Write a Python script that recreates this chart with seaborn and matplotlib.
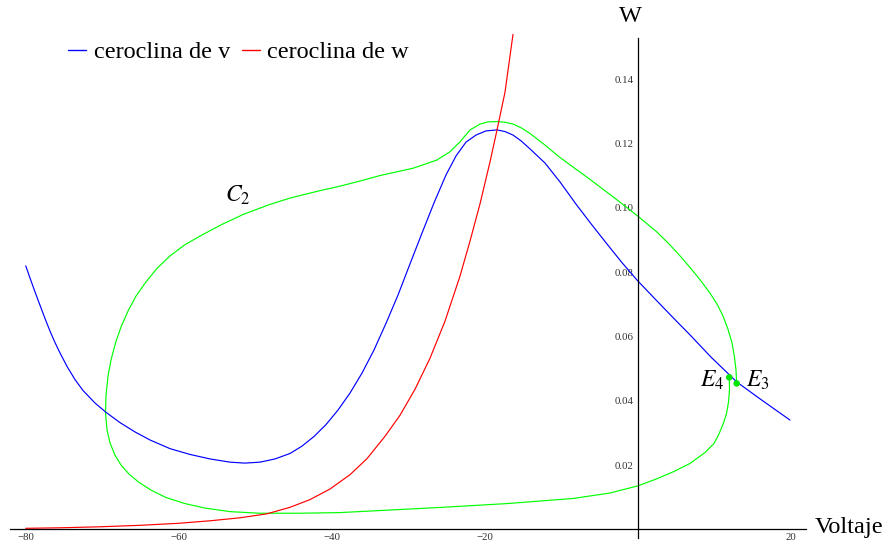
import matplotlib
matplotlib.use("Agg")
import matplotlib.pyplot as plt
import seaborn as sns
import pandas as pd
from matplotlib.lines import Line2D

# v-nullcline (blue)
vnull_v = [-80.0, -79.44, -78.79, -78.13, -77.48, -76.83, -76.17, -75.52, -74.60, -73.56,
           -72.51, -70.94, -69.50, -67.67, -65.71, -63.75, -61.13, -58.52, -55.90, -53.29,
           -51.33, -49.37, -47.40, -45.44, -43.87, -42.30, -40.73, -39.17, -37.60, -36.03,
           -34.46, -32.89, -31.32, -29.75, -28.18, -26.61, -25.04, -23.73, -22.43, -21.12,
           -19.81, -18.37, -17.33, -16.28, -15.23, -14.06, -12.10, -10.13, -8.04, -5.95,
           -3.99, -2.03, 0.0, 2.29, 4.64, 6.87, 9.61, 13.01, 16.02, 19.94]
vnull_w = [0.0820, 0.0782, 0.0739, 0.0697, 0.0656, 0.0617, 0.0581, 0.0549, 0.0507, 0.0466,
           0.0432, 0.0393, 0.0364, 0.0332, 0.0303, 0.0278, 0.0251, 0.0233, 0.0219, 0.0209,
           0.0206, 0.0209, 0.0219, 0.0236, 0.0259, 0.0289, 0.0326, 0.0371, 0.0424, 0.0486,
           0.0558, 0.0641, 0.0729, 0.0826, 0.0922, 0.1016, 0.1103, 0.1162, 0.1205, 0.1227,
           0.1240, 0.1243, 0.1238, 0.1227, 0.1209, 0.1184, 0.1140, 0.1081, 0.1012, 0.0947,
           0.0888, 0.0830, 0.0774, 0.0717, 0.0659, 0.0605, 0.0536, 0.0458, 0.0406, 0.0340]

# w-nullcline (red)
wnull_v = [-80.0, -75.52, -70.29, -65.06, -60.0, -55.90, -51.98, -48.45, -45.44, -42.83,
           -40.21, -37.60, -35.37, -33.02, -31.06, -29.10, -27.14, -25.18, -23.22, -21.91,
           -20.61, -19.30, -18.41, -17.33, -16.28]
wnull_w = [0.00031, 0.00047, 0.00078, 0.00124, 0.00187, 0.00265, 0.00358, 0.00482, 0.00685,
           0.00924, 0.01254, 0.01699, 0.02200, 0.02895, 0.03548, 0.04357, 0.05322, 0.06474,
           0.07874, 0.08964, 0.10115, 0.11423, 0.12387, 0.13601, 0.15405]

# orbit C2 (green), traced from E4 around to E3
orb_v = [12.00, 12.03, 11.90, 11.64, 11.25, 10.66, 10.00, 8.83, 6.87, 4.77, 2.51, 0.03,
         -3.60, -8.40, -17.10, -25.83, -32.37, -38.90, -44.13, -49.37, -53.29, -56.56,
         -59.17, -61.66, -63.62, -65.19, -66.50, -67.54, -68.33, -68.98, -69.37, -69.57,
         -69.50, -69.24, -68.85, -68.26, -67.54, -66.63, -65.58, -64.27, -62.84, -61.13,
         -59.17, -56.95, -54.34, -51.46, -48.32, -45.44, -41.52, -38.90, -36.29, -33.67,
         -29.32, -26.26, -24.52, -23.21, -21.90, -20.60, -19.55, -18.41, -17.33, -16.24,
         -15.17, -14.06, -12.10, -10.13, -8.17, -6.21, -3.60, -1.63, 0.03, 2.51, 4.25, 5.56,
         6.87, 8.17, 9.48, 10.40, 11.18, 11.83, 12.36, 12.68, 12.88, 12.97]
orb_w = [0.0473, 0.0434, 0.0396, 0.0360, 0.0331, 0.0297, 0.0267, 0.0239, 0.0205, 0.0180,
         0.0157, 0.0135, 0.0113, 0.0096, 0.0080, 0.0068, 0.0060, 0.0052, 0.0050, 0.0050,
         0.0055, 0.0066, 0.0080, 0.0099, 0.0122, 0.0146, 0.0172, 0.0200, 0.0231, 0.0269,
         0.0309, 0.0362, 0.0418, 0.0477, 0.0527, 0.0580, 0.0630, 0.0679, 0.0726, 0.0770,
         0.0812, 0.0851, 0.0886, 0.0916, 0.0949, 0.0981, 0.1009, 0.1031, 0.1054, 0.1068,
         0.1084, 0.1101, 0.1124, 0.1149, 0.1175, 0.1206, 0.1243, 0.1261, 0.1268, 0.1269,
         0.1267, 0.1261, 0.1249, 0.1232, 0.1196, 0.1157, 0.1123, 0.1089, 0.1042, 0.1006,
         0.0975, 0.0926, 0.0885, 0.0851, 0.0815, 0.0777, 0.0735, 0.0701, 0.0664, 0.0623,
         0.0580, 0.0536, 0.0496, 0.0454]

# equilibria
eq_v = [12.00, 12.97]
eq_w = [0.0473, 0.0454]

x_major = [-80, -60, -40, -20, 20]
x_labels = ["\u221280", "\u221260", "\u221240", "\u221220", "20"]
y_major = [0.02, 0.04, 0.06, 0.08, 0.10, 0.12, 0.14]
y_labels = ["0.02", "0.04", "0.06", "0.08", "0.10", "0.12", "0.14"]

sns.set_theme(style="white")
plt.rcParams["font.family"] = ["Liberation Serif", "DejaVu Serif"]
plt.rcParams["mathtext.fontset"] = "stix"

W, H = 891, 548
fig = plt.figure(figsize=(W / 100, H / 100), dpi=100)
ax = fig.add_axes([0, 0, 1, 1])
ax.set_facecolor("white")

# data window chosen so the origin sits where the axes cross
px_per_v, v0_px = 7.647, 637.5
px_per_w, w0_px = 3213.0, 529.3
ax.set_xlim(-v0_px / px_per_v, (W - v0_px) / px_per_v)
ax.set_ylim((w0_px - H) / px_per_w, w0_px / px_per_w)

df_v = pd.DataFrame({"v": vnull_v, "w": vnull_w})
df_w = pd.DataFrame({"v": wnull_v, "w": wnull_w})
df_o = pd.DataFrame({"v": orb_v, "w": orb_w})

lw = 0.85
sns.lineplot(data=df_o, x="v", y="w", sort=False, estimator=None, color=(0, 1, 0), lw=lw, ax=ax)
sns.lineplot(data=df_v, x="v", y="w", sort=False, estimator=None, color=(0, 0, 1), lw=lw, ax=ax)
sns.lineplot(data=df_w, x="v", y="w", sort=False, estimator=None, color=(1, 0, 0), lw=lw, ax=ax)
sns.scatterplot(x=eq_v, y=eq_w, color=(0, 0.9, 0), s=22, edgecolor="none", ax=ax, zorder=5)

# axes crossing at the origin
for side in ["top", "right"]:
    ax.spines[side].set_visible(False)
ax.spines["left"].set_position(("data", 0))
ax.spines["bottom"].set_position(("data", 0))
ax.spines["left"].set_bounds(-0.0028, 0.1528)
ax.spines["bottom"].set_bounds(-82.0, 22.0)
for s in ["left", "bottom"]:
    ax.spines[s].set_color("black")
    ax.spines[s].set_linewidth(0.9)

ax.set_xticks(x_major)
ax.set_xticklabels(x_labels)
ax.set_xticks([t for t in range(-75, 20, 5) if t % 20 != 0], minor=True)
ax.set_yticks(y_major)
ax.set_yticklabels(y_labels)
ax.set_yticks([0.005, 0.01, 0.015, 0.025, 0.03, 0.035, 0.045, 0.05, 0.055, 0.065, 0.07,
               0.075, 0.085, 0.09, 0.095, 0.105, 0.11, 0.115, 0.125, 0.13, 0.135, 0.145, 0.15],
              minor=True)
ax.tick_params(which="both", direction="in", color="black", width=0.8,
               labelsize=7.8, labelcolor="#333333", pad=3)
ax.tick_params(which="major", length=3.2)
ax.tick_params(which="minor", length=2.0)
ax.set_xlabel("")
ax.set_ylabel("")

# axis names
fig.text(815 / W, 1 - 528 / H, "Voltaje", fontsize=17.5, ha="left", va="center", color="black")
fig.text(630 / W, 1 - 17 / H, "W", fontsize=17.5, ha="center", va="center", color="black")

# curve labels
ax.text(-53.9, 0.1040, r"$C_2$", fontsize=17, ha="left", va="center", color="black")
ax.text(11.3, 0.0465, r"$E_4$", fontsize=17, ha="right", va="center", color="black")
ax.text(14.2, 0.0465, r"$E_3$", fontsize=17, ha="left", va="center", color="black")

handles = [Line2D([], [], color=(0, 0, 1), lw=1.0), Line2D([], [], color=(1, 0, 0), lw=1.0)]
ax.legend(handles, ["ceroclina de v", "ceroclina de w"], loc="center left",
          bbox_to_anchor=(68 / W, 1 - 52 / H), bbox_transform=fig.transFigure,
          ncol=2, frameon=False, fontsize=17.5, handlelength=0.75, handletextpad=0.3,
          columnspacing=0.5, borderaxespad=0, borderpad=0, labelcolor="black")

fig.savefig("out.png", dpi=100)
